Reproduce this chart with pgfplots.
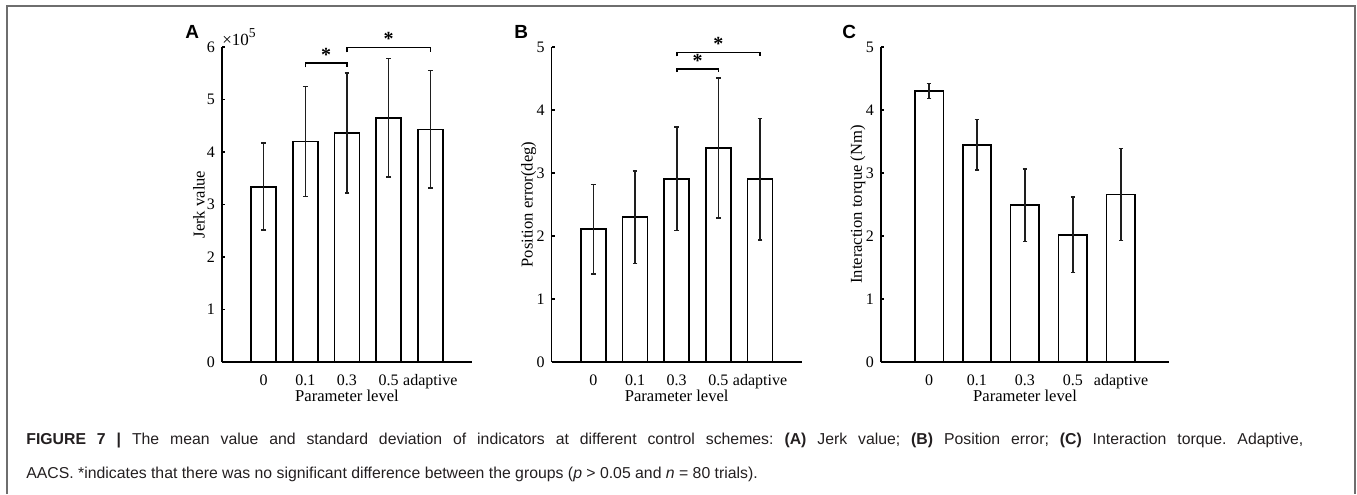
\documentclass[border=0pt]{standalone}
\usepackage{fontspec}
\setmainfont{Liberation Serif}
\newfontfamily\sansf{Liberation Sans}
\usepackage{pgfplots}
\pgfplotsset{compat=1.18}

\definecolor{errgray}{RGB}{30,30,30}
\definecolor{framegray}{RGB}{110,110,110}
\definecolor{captext}{RGB}{35,31,32}

\pgfplotsset{
  matbar/.style={
    scale only axis,
    height=157.5pt,
    axis x line=bottom,
    axis y line=left,
    axis line style={-, black, line width=0.7pt},
    xmin=0, xmax=6, ymin=0,
    xtick={1,2,3,4,5},
    xticklabels={0,0.1,0.3,0.5,adaptive},
    xtick style={draw=none},
    tick align=inside,
    ytick style={black, line width=0.6pt},
    major tick length=1.6pt,
    tick label style={font=\fontsize{8}{9}\selectfont},
    label style={font=\fontsize{8.3}{9}\selectfont},
    /pgf/number format/assume math mode=true,
    xticklabel style={anchor=base, yshift=-10pt},
    xlabel style={at={(axis description cs:0.5,0)}, anchor=base, yshift=-19.5pt},
    ylabel style={at={([xshift=-11.5pt]axis description cs:0,0.5)}, anchor=center},
    xlabel={Parameter level},
    ybar, bar width=0.6,
    clip=false,
  },
  barstyle/.style={fill=white, draw=black, line width=0.9pt,
    error bars/.cd, y dir=both, y explicit,
    error bar style={line width=0.8pt, errgray},
    error mark options={rotate=90, mark size=1.2pt, line width=0.8pt, errgray}},
  bracket/.style={sharp plot, black, line width=0.8pt, forget plot},
}
\tikzset{sigstar/.style={anchor=base, inner sep=0pt, yshift=1pt, font=\bfseries\fontsize{10}{10}\selectfont}}

\begin{document}
\frenchspacing
\begin{tikzpicture}
\path[use as bounding box] (0,0) rectangle (678.5pt,247pt);
\draw[framegray, line width=0.8pt] (3.5pt,0) -- (3.5pt,244pt) -- (677.5pt,244pt) -- (677.5pt,0);

% A: jerk value
\begin{axis}[matbar, at={(111pt,66pt)}, anchor=south west, width=125pt,
  ymax=6, ytick={0,1,2,3,4,5,6}, ylabel={Jerk value}]
\addplot[barstyle] coordinates {
  (1,3.34) +- (0,0.83)
  (2,4.20) +- (0,1.05)
  (3,4.36) +- (0,1.14)
  (4,4.65) +- (0,1.13)
  (5,4.43) +- (0,1.12)};
\addplot[bracket] coordinates {(2,5.61) (2,5.69) (3,5.69) (3,5.61)};
\addplot[bracket] coordinates {(3,5.90) (3,5.99) (5,5.99) (5,5.90)};
\node[sigstar] at (axis cs:2.5,5.69) {*};
\node[sigstar] at (axis cs:4,5.99) {*};
\node[anchor=base west, inner sep=0pt, font=\fontsize{8.5}{9}\selectfont] at ([yshift=1pt]axis cs:0,6) {×10\raisebox{3.6pt}{\fontsize{6.8}{7}\selectfont 5}};
\end{axis}

% B: position error
\begin{axis}[matbar, at={(275.85pt,66pt)}, anchor=south west, width=125pt,
  ymax=5, ytick={0,1,2,3,4,5}, ylabel={Position error(deg)}]
\addplot[barstyle] coordinates {
  (1,2.11) +- (0,0.71)
  (2,2.30) +- (0,0.735)
  (3,2.91) +- (0,0.82)
  (4,3.40) +- (0,1.11)
  (5,2.90) +- (0,0.965)};
\addplot[bracket] coordinates {(3,4.60) (3,4.65) (4,4.65) (4,4.60)};
\addplot[bracket] coordinates {(3,4.85) (3,4.91) (5,4.91) (5,4.85)};
\node[sigstar] at (axis cs:3.5,4.65) {*};
\node[sigstar] at (axis cs:4,4.91) {*};
\end{axis}

% C: interaction torque
\begin{axis}[matbar, at={(440.5pt,66pt)}, anchor=south west, width=144pt,
  ymax=5, ytick={0,1,2,3,4,5}, ylabel={Interaction torque (Nm)}]
\addplot[barstyle] coordinates {
  (1,4.30) +- (0,0.12)
  (2,3.45) +- (0,0.40)
  (3,2.49) +- (0,0.575)
  (4,2.02) +- (0,0.60)
  (5,2.66) +- (0,0.73)};
\end{axis}

\begin{scope}[every node/.style={anchor=base west, inner sep=0pt, font=\sansf\bfseries\fontsize{9.5}{10}\selectfont}]
\node at (92.5pt,227.5pt) {A};
\node at (257pt,227.5pt) {B};
\node at (421pt,227.5pt) {C};
\end{scope}

\begin{scope}[every node/.style={anchor=base west, inner sep=0pt, text=captext, font=\sansf\fontsize{7.9}{10}\selectfont}]
\node at (13pt,25pt) {\makebox[638.5pt][s]{\textbf{FIGURE 7 |} The mean value and standard deviation of indicators at different control schemes: \textbf{(A)} Jerk value; \textbf{(B)} Position error; \textbf{(C)} Interaction torque. Adaptive,}};
\node at (13pt,8pt) {AACS. *indicates that there was no significant difference between the groups (\textit{p} > 0.05 and \textit{n} = 80 trials).};
\end{scope}
\end{tikzpicture}
\end{document}
